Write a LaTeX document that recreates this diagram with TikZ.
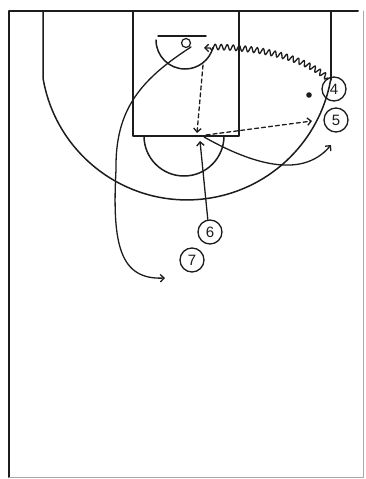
\documentclass[tikz,border=0pt]{standalone}
\usepackage{fontspec}
\setsansfont{Liberation Sans}
\usetikzlibrary{arrows.meta,calc,positioning,decorations.pathmorphing}
\definecolor{ctInk}{HTML}{1C1C1C}
\definecolor{ctFaint}{HTML}{A8A8A8}
\tikzset{
 court/.style={line cap=round,line join=round,text=ctInk},
 floorline/.style={draw=ctInk,line width=1.5pt},
 player/.style={circle,draw=ctInk,line width=1.3pt,inner sep=0pt,minimum size=24pt,
   font=\sffamily\fontsize{15}{15}\selectfont},
 cut/.style={draw=ctInk,line width=1.3pt,-{Straight Barb[length=3.8pt,width=7.5pt]}},
 pass/.style={cut,dash pattern=on 4pt off 3pt},
 dribble/.style={cut,decorate,decoration={snake,amplitude=2.8pt,segment length=6pt,post length=5pt}}
}

\begin{document}
\begin{tikzpicture}[court,x=1pt,y=-1pt]
 \useasboundingbox (0,0) rectangle (366,479);
 % Half court: border, lane, three point line and basket.
 \draw[floorline,line width=2pt] (358,11)--(9,11)--(9,477);
 \draw[ctFaint,line width=.8pt] (9,477)--(363,477)--(363,11);
 \draw[floorline] (133,11) rectangle (239,136);
 \draw[floorline] (331,11)--(331,80);
 \draw[floorline] (43,11)--(43,78) arc[start angle=170.5,end angle=10.2,radius=146];
 \draw[floorline] (158,36)--(206,36);
 \draw[floorline,line width=1.2pt] (186,43) circle[radius=4.5];
 \draw[floorline] (156,40) arc[start angle=180,end angle=15,radius=29];
 \draw[floorline] (144,136) arc[start angle=180,end angle=0,radius=40];
 \fill[ctInk] (309,95) circle[radius=2.8];
 % Players.
 \node[player] (p4) at (334,89) {4};
 \node[player] (p5) at (336,120) {5};
 \node[player] (p6) at (210,232) {6};
 \node[player] (p7) at (192,260) {7};
 \coordinate (rim) at (204,48);
 \coordinate (drop) at (203,65);
 \coordinate (post) at (197,133);
 \coordinate (elbow) at (206,135);
 \coordinate (wing) at (312,121);
 \coordinate (seal) at (200,141);
 \coordinate (split) at (191,47);
 \coordinate (slot) at (165,278);
 \coordinate (flare) at (331,145);
 % Movements.
 \draw[dribble] (p4.120) .. controls (300,55) and (250,47) .. (rim);
 \draw[pass] (drop)--(post);
 \draw[pass] (elbow)--(wing);
 \draw[cut] (p6.100)--(seal);
 \draw[cut] (split) .. controls (140,80) and (115,110) .. (116,170)
   .. controls (112,245) and (120,280) .. (slot);
 \draw[cut] (204,137) .. controls (245,160) and (300,182) .. (flare);
\end{tikzpicture}
\end{document}
